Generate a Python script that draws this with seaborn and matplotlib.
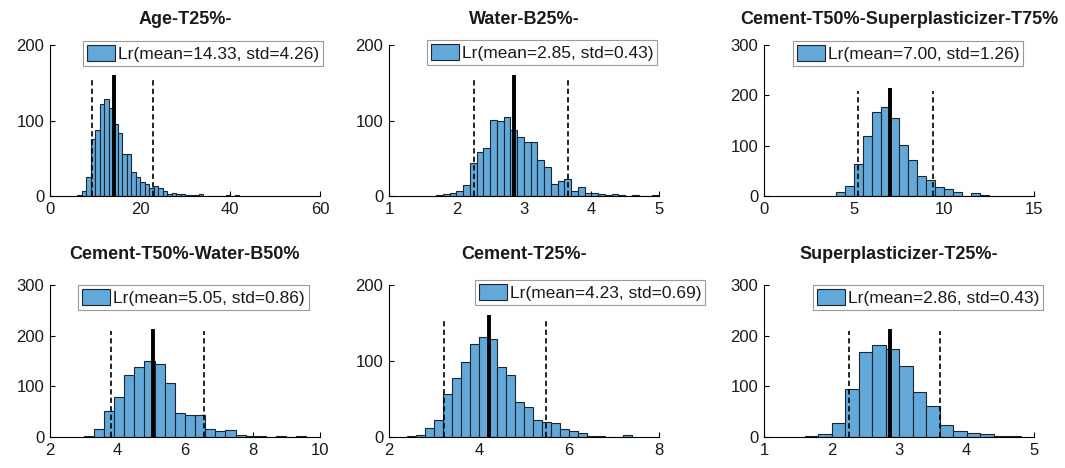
import numpy as np
import pandas as pd
import matplotlib
matplotlib.use("Agg")
import matplotlib.pyplot as plt
from matplotlib.patches import Patch
import seaborn as sns

# ---------------- data ----------------
titles = ["Age-T25%-", "Water-B25%-", "Cement-T50%-Superplasticizer-T75%",
          "Cement-T50%-Water-B50%", "Cement-T25%-", "Superplasticizer-T25%-"]
means = [14.33, 2.85, 7.00, 5.05, 4.23, 2.86]
stds = [4.26, 0.43, 1.26, 0.86, 0.69, 0.43]
lower_marks = [9.35, 2.257, 5.23, 3.80, 3.22, 2.258]
upper_marks = [22.9, 3.648, 9.40, 6.55, 5.49, 3.604]
mean_line_top = [160, 160, 214, 213, 160, 213]
mark_line_top = [158, 158, 209, 209, 157, 209]

bin_start = [6.0, 1.7, 4.0, 3.0, 2.4, 1.6]
bin_width = [1.0, 0.1, 0.5, 0.3, 0.2, 0.2]

counts_age = [1, 6, 25, 75, 88, 122, 128, 116, 96, 83, 56, 56, 32, 25, 19, 16,
              10, 13, 10, 7, 3, 4, 3, 3, 1, 1, 1, 2, 0, 0, 0, 0, 0, 1, 0, 1]
counts_water = [1, 2, 4, 7, 15, 44, 58, 64, 101, 100, 104, 88, 78, 72, 72, 48,
                38, 16, 20, 23, 7, 12, 4, 4, 2, 1, 2, 1, 0, 1, 0, 0, 1]
counts_cem_sp = [7, 19, 64, 120, 167, 176, 154, 101, 72, 40, 31, 18, 13, 7, 0, 5, 1]
counts_cem_w = [2, 15, 52, 78, 123, 139, 150, 144, 107, 47, 43, 43, 15, 11, 13,
                3, 2, 1, 0, 1, 0, 1]
counts_cem = [1, 2, 12, 23, 56, 78, 99, 123, 131, 129, 92, 81, 46, 40, 23, 20,
              18, 10, 8, 5, 1, 1, 0, 0, 2]
counts_sp = [1, 5, 28, 94, 168, 181, 174, 140, 89, 62, 23, 11, 7, 5, 2, 1]
all_counts = [counts_age, counts_water, counts_cem_sp, counts_cem_w, counts_cem, counts_sp]

xlims = [(0, 60), (1, 5), (0, 15), (2, 10), (2, 8), (1, 5)]
xticks = [[0, 20, 40, 60], [1, 2, 3, 4, 5], [0, 5, 10, 15], [2, 4, 6, 8, 10],
          [2, 4, 6, 8], [1, 2, 3, 4, 5]]
ylims = [(0, 200), (0, 200), (0, 300), (0, 300), (0, 200), (0, 300)]
yticks = [[0, 100, 200], [0, 100, 200], [0, 100, 200, 300], [0, 100, 200, 300],
          [0, 100, 200], [0, 100, 200, 300]]

# ---------------- style ----------------
sns.set_theme(style="ticks")
plt.rcParams["font.family"] = ["Liberation Sans", "DejaVu Sans"]
plt.rcParams["axes.linewidth"] = 0.8
plt.rcParams["xtick.direction"] = "in"
plt.rcParams["ytick.direction"] = "in"

BAR = "#62a8d8"
EDGE = "#1c2630"
TXT = "#1a1a1a"

W, H = 1065, 468
fig = plt.figure(figsize=(W / 100, H / 100), dpi=100)

col_left = [50, 389, 764]
ax_w = 270
row_tb = [(45, 196), (285, 437)]
title_pad = [15, 18.5]
legend_anchor = [(83, 41), (427, 40), (793, 41), (78, 285), (475, 280), (813, 285)]

for i in range(6):
    r, c = divmod(i, 3)
    top, bot = row_tb[r]
    ax = fig.add_axes([col_left[c] / W, 1 - bot / H, ax_w / W, (bot - top) / H])
    n = len(all_counts[i])
    edges = np.round(bin_start[i] + bin_width[i] * np.arange(n + 1), 6)
    df = pd.DataFrame({"x": (edges[:-1] + edges[1:]) / 2, "w": all_counts[i]})
    sns.histplot(data=df, x="x", weights="w", binwidth=bin_width[i],
                 binrange=(float(edges[0]), float(edges[-1])), ax=ax,
                 color=BAR, alpha=1.0, edgecolor=EDGE, linewidth=0.8, zorder=2)
    ax.plot([means[i], means[i]], [0, mean_line_top[i]], color="black", lw=2.8,
            solid_capstyle="butt", zorder=4)
    for xv in (lower_marks[i], upper_marks[i]):
        ax.plot([xv, xv], [0, mark_line_top[i]], color="black", lw=1.2,
                linestyle=(0, (3.2, 1.9)), zorder=4)
    ax.set_xlim(*xlims[i])
    ax.set_ylim(*ylims[i])
    ax.set_xticks(xticks[i])
    ax.set_yticks(yticks[i])
    ax.set_xlabel("")
    ax.set_ylabel("")
    sns.despine(ax=ax)
    for s in ("left", "bottom"):
        ax.spines[s].set_color("black")
    ax.tick_params(axis="both", labelsize=12, length=3.5, width=0.8, colors="black",
                   labelcolor=TXT, pad=4)
    ax.set_title(titles[i], fontsize=13, fontweight="bold", color=TXT, pad=title_pad[r])
    lx, ly = legend_anchor[i]
    handle = Patch(facecolor=BAR, edgecolor=EDGE, linewidth=0.8)
    leg = ax.legend([handle], [f"Lr(mean={means[i]:.2f}, std={stds[i]:.2f})"],
                    loc="upper left", bbox_to_anchor=(lx / W, 1 - ly / H),
                    bbox_transform=fig.transFigure, borderaxespad=0,
                    fontsize=12.5, frameon=True, fancybox=False, framealpha=1,
                    edgecolor="#9a9a9a", borderpad=0.22, handlelength=1.65,
                    handleheight=1.1, handletextpad=0.15)
    leg.get_frame().set_linewidth(0.8)
    for t in leg.get_texts():
        t.set_color(TXT)

fig.savefig("out.png", dpi=100)
